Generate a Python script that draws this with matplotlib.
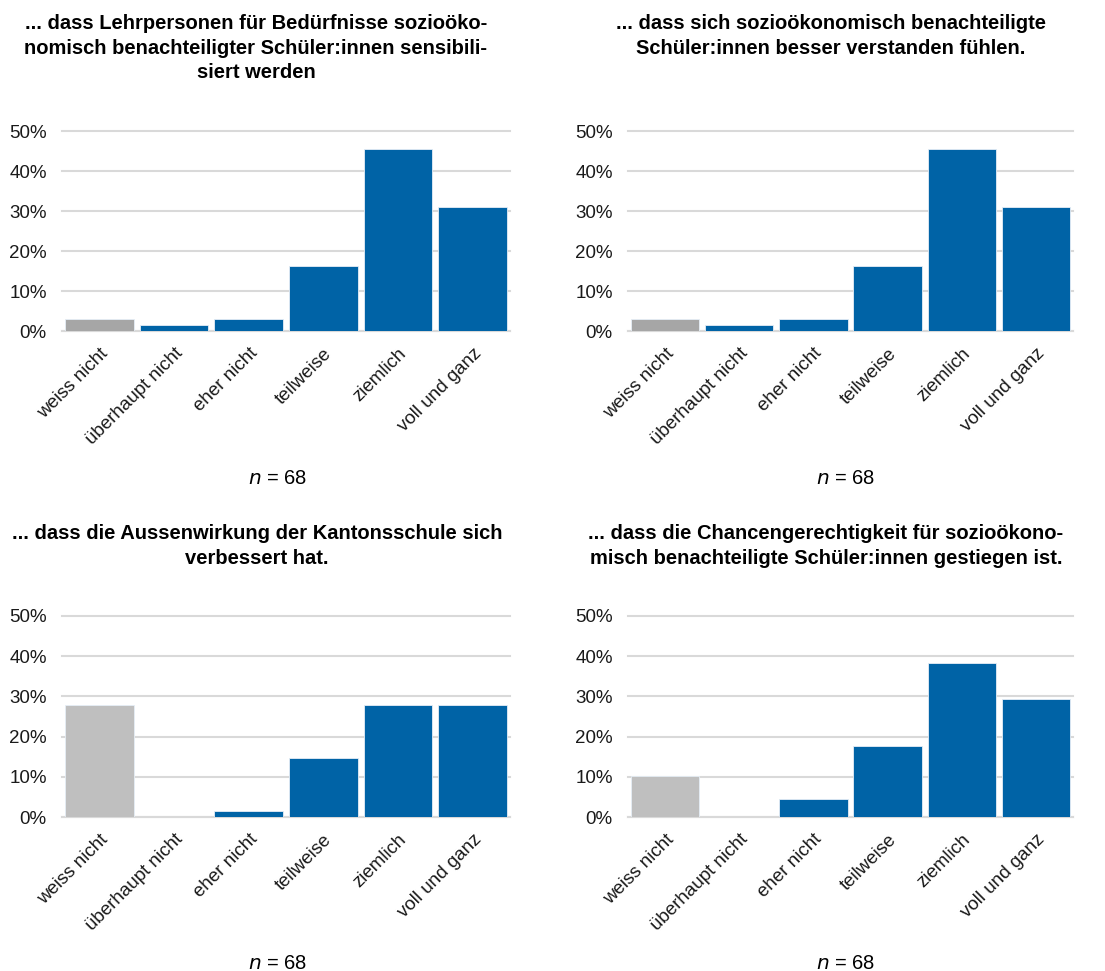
import numpy as np
import matplotlib
matplotlib.use('Agg')
import matplotlib.pyplot as plt

plt.rcParams['font.family'] = ['Liberation Sans', 'DejaVu Sans']

categories = ['weiss nicht', 'überhaupt nicht', 'eher nicht', 'teilweise', 'ziemlich', 'voll und ganz']

titles = [
    '... dass Lehrpersonen für Bedürfnisse sozioöko-\nnomisch benachteiligter Schüler:innen sensibili-\nsiert werden',
    '... dass sich sozioökonomisch benachteiligte\nSchüler:innen besser verstanden fühlen.',
    '... dass die Aussenwirkung der Kantonsschule sich\nverbessert hat.',
    '... dass die Chancengerechtigkeit für sozioökono-\nmisch benachteiligte Schüler:innen gestiegen ist.',
]

vals_lehrpersonen = [2.94, 1.47, 2.94, 16.18, 45.59, 30.88]
vals_verstanden = [2.94, 1.47, 2.94, 16.18, 45.59, 30.88]
vals_aussenwirkung = [27.94, 0.0, 1.47, 14.71, 27.94, 27.94]
vals_chancen = [10.29, 0.0, 4.41, 17.65, 38.24, 29.41]
all_vals = [vals_lehrpersonen, vals_verstanden, vals_aussenwirkung, vals_chancen]

grey_colors = ['#a6a6a6', '#a6a6a6', '#bfbfbf', '#bfbfbf']
n_text = '$\\it{n}$ = 68'

blue = '#0063a6'

W, H = 1105, 971
fig = plt.figure(figsize=(W / 100, H / 100), dpi=100)

# axes boxes in pixels: left, right, top(50%), bottom(0%)
boxes = [(62, 510, 131, 331), (628, 1073, 131, 331),
         (62, 510, 616, 817), (628, 1073, 616, 817)]
title_pos = [(256, 14), (831, 14), (257, 524), (826, 524)]
n_pos = [(278, 478), (846, 478), (278, 963), (846, 963)]

for i, vals in enumerate(all_vals):
    l, r, t, b = boxes[i]
    ax = fig.add_axes([l / W, 1 - b / H, (r - l) / W, (b - t) / H])
    x = np.arange(len(categories))
    colors = [grey_colors[i]] + [blue] * (len(categories) - 1)
    ax.bar(x, vals, width=0.92, color=colors, edgecolor='#e6eef6', linewidth=0.6, zorder=3)
    ax.set_ylim(0, 50)
    ax.set_xlim(-0.5, len(categories) - 0.5)
    ax.set_yticks([0, 10, 20, 30, 40, 50])
    ax.set_yticklabels([f'{v}%' for v in range(0, 60, 10)], fontsize=13.5, color='#1a1a1a')
    ax.set_xticks(x)
    ax.set_xticklabels(categories, rotation=45, ha='right', va='top',
                       rotation_mode='anchor', fontsize=13.5, color='#1a1a1a')
    ax.tick_params(axis='both', length=0)
    ax.tick_params(axis='y', pad=11)
    ax.tick_params(axis='x', pad=10)
    ax.grid(axis='y', color='#d9d9d9', linewidth=1.5, zorder=0)
    ax.set_axisbelow(True)
    for s in ['top', 'right', 'left']:
        ax.spines[s].set_visible(False)
    ax.spines['bottom'].set_color('#d9d9d9')
    ax.spines['bottom'].set_linewidth(1.5)
    for line in ax.get_ygridlines():
        line.set_clip_on(False)

    tx, ty = title_pos[i]
    fig.text(tx / W, 1 - ty / H, titles[i], ha='center', va='top',
             fontsize=14.5, fontweight='bold', linespacing=1.38)
    nx, ny = n_pos[i]
    fig.text(nx / W, 1 - ny / H, n_text, ha='center', va='center', fontsize=14.5)

fig.savefig('out.png', dpi=100, facecolor='white')
